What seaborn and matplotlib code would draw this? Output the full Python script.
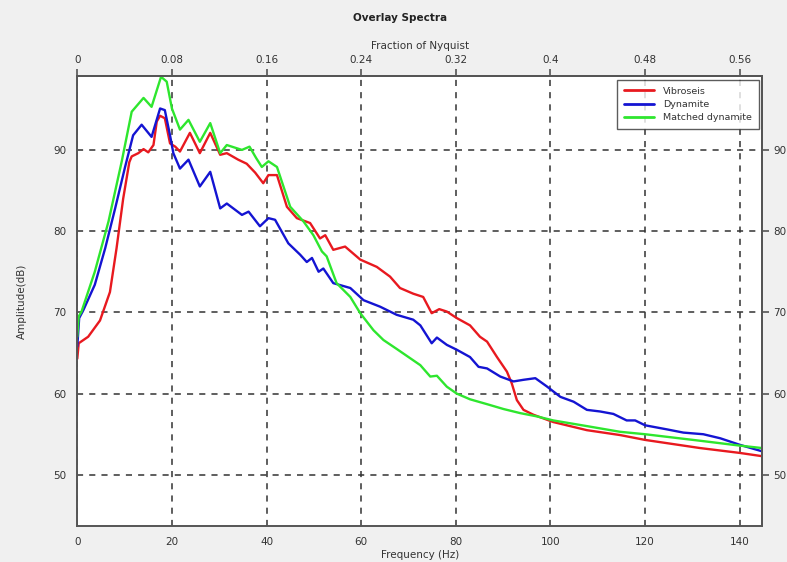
import numpy as np
import pandas as pd
import matplotlib
matplotlib.use("Agg")
import matplotlib.pyplot as plt
import seaborn as sns
from matplotlib.lines import Line2D

# ---- data ----
series_names = ["Vibroseis", "Dynamite", "Matched dynamite"]

vib_freq = [0, 0.3, 2.3, 4.8, 6.3, 6.9, 8.3, 9.7, 11.0, 11.5, 12.9, 14.0, 15.0, 16.1, 16.8, 17.5,
            18.5, 19.6, 20.7, 21.7, 23.8, 25.9, 28.1, 30.2, 31.6, 34.0, 35.8, 37.6, 39.3, 40.4,
            42.2, 44.3, 46.4, 49.2, 51.3, 52.4, 54.1, 56.6, 59.8, 63.3, 66.1, 68.2, 71.0, 73.1,
            74.9, 76.5, 78.1, 80.2, 83.0, 85.1, 86.6, 88.7, 90.8, 91.8, 92.9, 94.3, 96.4, 100.6,
            107.7, 114.7, 120, 131.6, 140, 144.7]
vib_db = [64.3, 66.2, 67.0, 69.0, 71.5, 72.5, 77.9, 84.0, 88.5, 89.2, 89.6, 90.1, 89.7, 90.6, 93.5, 94.2,
          93.9, 90.8, 90.4, 89.8, 92.1, 89.6, 92.1, 89.4, 89.6, 88.8, 88.3, 87.2, 85.9, 86.9,
          86.9, 83.0, 81.6, 81.0, 79.1, 79.5, 77.7, 78.1, 76.5, 75.6, 74.4, 73.0, 72.3, 71.9,
          69.9, 70.4, 70.1, 69.3, 68.4, 67.0, 66.4, 64.5, 62.7, 61.3, 59.2, 58.0, 57.4, 56.5,
          55.5, 54.9, 54.3, 53.3, 52.7, 52.3]

dyn_freq = [0, 0.4, 1.3, 3.7, 5.9, 8.0, 10.1, 11.8, 13.6, 15.7, 17.5, 18.5, 19.6, 20.3, 21.7, 23.5,
            25.9, 28.1, 30.2, 31.6, 34.8, 36.2, 38.6, 40.4, 41.8, 44.6, 47.1, 48.5, 49.6, 51.0,
            52.0, 54.1, 57.7, 60.5, 64.0, 67.5, 71.0, 72.5, 74.9, 76.0, 78.1, 80.2, 83.0, 84.8,
            86.6, 89.4, 92.2, 94.3, 96.8, 99.2, 102.1, 104.9, 107.7, 110.5, 113.3, 116.1, 117.9,
            120, 124.6, 128.1, 132.3, 135.9, 140, 144.7]
dyn_db = [65.8, 69.3, 70.3, 73.4, 77.9, 82.8, 87.9, 91.8, 93.1, 91.6, 95.1, 94.9, 91.8, 89.6, 87.7, 88.8,
          85.5, 87.3, 82.8, 83.4, 82.0, 82.4, 80.6, 81.6, 81.4, 78.5, 77.1, 76.2, 76.7, 75.0,
          75.4, 73.6, 73.0, 71.5, 70.7, 69.7, 69.1, 68.4, 66.2, 66.9, 66.0, 65.4, 64.5, 63.3,
          63.1, 62.1, 61.5, 61.7, 61.9, 60.9, 59.6, 59.0, 58.0, 57.8, 57.5, 56.7, 56.7,
          56.1, 55.6, 55.2, 55.0, 54.5, 53.7, 52.9]

mat_freq = [0, 0.3, 0.9, 3.7, 6.6, 9.4, 11.5, 14.0, 15.7, 17.7, 18.9, 20.0, 21.7, 23.5, 25.9, 28.1,
            30.2, 31.6, 34.8, 36.4, 37.8, 39.0, 40.4, 42.2, 45.0, 47.8, 49.9, 51.7, 52.7, 54.8,
            57.7, 59.8, 62.6, 64.7, 67.5, 72.5, 74.6, 76.0, 78.1, 80.2, 83.0, 86.6, 90.1, 93.6,
            97.1, 100.6, 107.7, 114.7, 120, 131.6, 140, 144.7]
mat_db = [67.0, 69.5, 70.1, 75.0, 81.2, 88.6, 94.7, 96.4, 95.3, 99.0, 98.4, 95.1, 92.5, 93.7, 91.0, 93.3,
          89.6, 90.6, 90.0, 90.4, 89.0, 87.9, 88.6, 87.9, 83.0, 81.2, 79.5, 77.5, 76.9, 73.6,
          71.9, 69.9, 67.8, 66.6, 65.5, 63.5, 62.1, 62.2, 60.85, 60.0, 59.3, 58.7, 58.1, 57.6,
          57.2, 56.7, 56.0, 55.3, 55.0, 54.2, 53.6, 53.3]

x_ticks = [0, 20, 40, 60, 80, 100, 120, 140]
y_ticks = [50, 60, 70, 80, 90]
top_ticks = [0, 0.08, 0.16, 0.24, 0.32, 0.4, 0.48, 0.56]
top_tick_labels = ["0", "0.08", "0.16", "0.24", "0.32", "0.4", "0.48", "0.56"]
nyquist = 250.0

colors = {"Vibroseis": "#e8191f", "Dynamite": "#1414d2", "Matched dynamite": "#2ee62e"}

df = pd.concat([
    pd.DataFrame({"freq": vib_freq, "db": vib_db, "series": series_names[0]}),
    pd.DataFrame({"freq": dyn_freq, "db": dyn_db, "series": series_names[1]}),
    pd.DataFrame({"freq": mat_freq, "db": mat_db, "series": series_names[2]}),
], ignore_index=True)

sns.set_style("white")
plt.rcParams["font.family"] = ["DejaVu Sans"]

bg = "#f0f0f0"
text_c = "#333333"
spine_c = "#555555"

fig = plt.figure(figsize=(7.87, 5.62), dpi=100, facecolor=bg)
ax = fig.add_axes([0.0982, 0.064, 0.870, 0.8008])
ax.set_facecolor("white")

sns.lineplot(data=df, x="freq", y="db", hue="series", hue_order=series_names,
             palette=colors, estimator=None, linewidth=1.7, ax=ax, legend=False)

ax.set_xlim(0, 144.7)
ax.set_ylim(43.7, 99.1)
ax.set_xticks(x_ticks)
ax.set_yticks(y_ticks)
ax.grid(True, color="#333333", linestyle=(0, (4, 4)), linewidth=1.1)
ax.tick_params(axis="both", direction="out", length=5, width=1.2, colors=spine_c,
               labelcolor=text_c, labelsize=7.5, pad=3)
for s in ax.spines.values():
    s.set_color(spine_c)
    s.set_linewidth(1.4)

ax.set_xlabel("Frequency (Hz)", fontsize=7.5, color=text_c, labelpad=2)
ax.set_ylabel("Amplitude(dB)", fontsize=7.5, color=text_c, labelpad=19)

# top axis: fraction of Nyquist
top = ax.secondary_xaxis("top", functions=(lambda f: f / nyquist, lambda r: r * nyquist))
top.set_xticks(top_ticks)
top.set_xticklabels(top_tick_labels)
top.tick_params(direction="out", length=5, width=1.2, colors=spine_c,
                labelcolor=text_c, labelsize=7.5, pad=3)
top.set_xlabel("Fraction of Nyquist", fontsize=7.5, color=text_c, labelpad=4)
top.spines["top"].set_color(spine_c)
top.spines["top"].set_linewidth(1.4)

# right axis mirror
right = ax.secondary_yaxis("right")
right.set_yticks(y_ticks)
right.tick_params(direction="out", length=5, width=1.2, colors=spine_c,
                  labelcolor=text_c, labelsize=7.5, pad=3)
right.spines["right"].set_color(spine_c)
right.spines["right"].set_linewidth(1.4)

# legend
handles = [Line2D([0], [0], color=colors[n], linewidth=2) for n in series_names]
leg = ax.legend(handles, series_names, loc="upper right", bbox_to_anchor=(0.996, 0.992),
                borderaxespad=0, fontsize=6.8, frameon=True, fancybox=False,
                handlelength=3.2, handletextpad=1.0, borderpad=0.75, labelspacing=0.45)
leg.get_frame().set_edgecolor("#333333")
leg.get_frame().set_linewidth(1.0)
for t in leg.get_texts():
    t.set_color(text_c)

fig.text(0.508, 0.968, "Overlay Spectra", ha="center", va="center",
         fontsize=7.5, fontweight="bold", color="#222222")

fig.savefig("out.png", dpi=100, facecolor=bg)
